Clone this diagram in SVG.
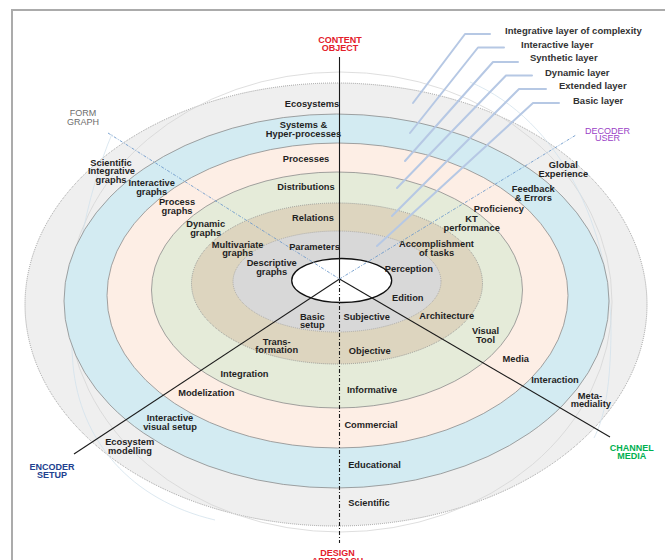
<svg xmlns="http://www.w3.org/2000/svg" width="665" height="560" viewBox="0 0 665 560">
<style>
.t{font-family:"Liberation Sans Narrow","Liberation Sans",Arial,sans-serif;font-weight:bold;font-size:9.3px;fill:#1f1f1f;text-anchor:middle}
.lg{font-family:"Liberation Sans Narrow","Liberation Sans",Arial,sans-serif;font-weight:bold;font-size:9.5px;fill:#333}
.ax{font-family:"Liberation Sans Narrow","Liberation Sans",Arial,sans-serif;font-weight:bold;font-size:9px;text-anchor:middle}
.edge{stroke:#8c8c8c;stroke-width:0.8}
.dot{stroke:#8c8c8c;stroke-width:0.9;stroke-dasharray:0.9 1.1}
.leader{fill:none;stroke:#b6c8e4;stroke-width:2;stroke-linejoin:round;stroke-linecap:round}
.faint{fill:none;stroke:#d6d6d6;stroke-width:0.8}
.axis{stroke:#1a1a1a;stroke-width:1.1;fill:none}
.blued{stroke:#6f9bcc;stroke-width:0.9;stroke-dasharray:3 1.5 1 1.5;fill:none}
</style>
<rect x="0" y="0" width="665" height="560" fill="#fff"/>
<path d="M12 560 V10 H665" fill="none" stroke="#ababab" stroke-width="2"/>

<g id="ring-ecosystems"><ellipse cx="336" cy="304.5" rx="311" ry="221.5" fill="#efefef" class="dot"/></g>
<g id="faint-orbits">
<ellipse cx="340" cy="302" rx="272" ry="230" class="faint"/>
<path class="faint" style="stroke:#d3e2ec" d="M470 82 C560 120 612 230 611 335 C610 395 603 420 594 438"/>
<path class="faint" style="stroke:#d3e2ec" d="M112 134 C88 190 66 290 73 365 C80 440 130 500 215 520"/>
</g>
<g id="ring-systems"><ellipse cx="336.5" cy="301" rx="272.5" ry="187" fill="#d3ebf2" class="edge"/></g>
<g id="ring-processes"><ellipse cx="337.5" cy="295.5" rx="230.5" ry="152.5" fill="#fdeee5" class="edge"/></g>
<g id="ring-distributions"><ellipse cx="337" cy="290" rx="185.5" ry="118" fill="#e5ebd9" class="edge"/></g>
<g id="ring-relations"><ellipse cx="337" cy="283.5" rx="145.5" ry="80.5" fill="#ddd5bf" class="dot"/></g>
<g id="ring-parameters"><ellipse cx="337" cy="281.5" rx="104" ry="50.5" fill="#d8d8d8" class="dot" style="stroke:#a3a3a3"/></g>
<g id="core"><ellipse cx="341.7" cy="280.5" rx="50" ry="22" fill="#fff" stroke="#111" stroke-width="1.3"/></g>

<g id="connectors">
<line class="axis" x1="339.5" y1="57" x2="339.5" y2="279"/>
<line class="axis" x1="339.5" y1="279" x2="339.5" y2="543" stroke-dasharray="4 2 1 2"/>
<line class="axis" x1="339.5" y1="279" x2="74" y2="454"/>
<line class="axis" x1="339.5" y1="279" x2="610" y2="437"/>
<line class="blued" x1="108" y1="133" x2="339.5" y2="279"/>
<line class="blued" x1="339.5" y1="279" x2="576" y2="135"/>
<path class="leader" d="M490 34 L465 34 L413 103"/>
<path class="leader" d="M504 47.5 L478 47.5 L410 133"/>
<path class="leader" d="M518 62 L493 62 L405 161"/>
<path class="leader" d="M532 75.5 L506 75.5 L397 188"/>
<path class="leader" d="M546 89 L519 89 L392 216"/>
<path class="leader" d="M559 103 L533 103 L377 246"/>
</g>

<g id="legend">
<text class="lg" x="505" y="33.5">Integrative layer of complexity</text>
<text class="lg" x="521" y="47.5">Interactive layer</text>
<text class="lg" x="530" y="61">Synthetic layer</text>
<text class="lg" x="545" y="75.5">Dynamic layer</text>
<text class="lg" x="559" y="89">Extended layer</text>
<text class="lg" x="573" y="103.5">Basic layer</text>
</g>

<g id="axis-labels">
<text class="ax" fill="#e3202a" x="340" y="42.5">CONTENT<tspan x="340" dy="8">OBJECT</tspan></text>
<text class="ax" fill="#6d6d6d" style="font-weight:normal" x="83" y="116">FORM<tspan x="83" dy="9">GRAPH</tspan></text>
<text class="ax" fill="#9a3fc6" style="font-weight:normal" x="607.5" y="133.5">DECODER<tspan x="607.5" dy="7.8">USER</tspan></text>
<text class="ax" fill="#21418f" x="52" y="470">ENCODER<tspan x="52" dy="8.4">SETUP</tspan></text>
<text class="ax" fill="#00b050" x="631.7" y="450.5">CHANNEL<tspan x="631.7" dy="8.7">MEDIA</tspan></text>
<text class="ax" fill="#e3202a" x="337.5" y="555.5">DESIGN<tspan x="337.5" dy="8">APPROACH</tspan></text>
</g>

<g id="content-labels">
<text class="t" x="312" y="106.7">Ecosystems</text>
<text class="t" x="303.5" y="128">Systems &amp;<tspan x="303.5" dy="9">Hyper-processes</tspan></text>
<text class="t" x="306" y="162.3">Processes</text>
<text class="t" x="306" y="190">Distributions</text>
<text class="t" x="313" y="221">Relations</text>
<text class="t" x="314.5" y="250">Parameters</text>
</g>

<g id="design-labels">
<text class="t" x="366.7" y="320">Subjective</text>
<text class="t" x="369.7" y="354">Objective</text>
<text class="t" x="372" y="392.6">Informative</text>
<text class="t" x="371" y="428.3">Commercial</text>
<text class="t" x="374.5" y="468">Educational</text>
<text class="t" x="369" y="505.6">Scientific</text>
</g>

<g id="form-labels">
<text class="t" x="111" y="165.8">Scientific<tspan x="111.5" dy="8.5">Integrative</tspan><tspan x="111" dy="8.5">graphs</tspan></text>
<text class="t" x="151.7" y="186.3">Interactive<tspan x="151.7" dy="8.7">graphs</tspan></text>
<text class="t" x="177" y="205.3">Process<tspan x="177" dy="8.7">graphs</tspan></text>
<text class="t" x="205.7" y="227.2">Dynamic<tspan x="205.7" dy="8.8">graphs</tspan></text>
<text class="t" x="237.7" y="247.8">Multivariate<tspan x="237.7" dy="8.5">graphs</tspan></text>
<text class="t" x="271.7" y="266.1">Descriptive<tspan x="271.7" dy="8.6">graphs</tspan></text>
</g>

<g id="decoder-labels">
<text class="t" x="563.3" y="168.3">Global<tspan x="563.3" dy="8.8">Experience</tspan></text>
<text class="t" x="533.3" y="191.8">Feedback<tspan x="533.3" dy="8.8">&amp; Errors</tspan></text>
<text class="t" x="498.8" y="211.5">Proficiency</text>
<text class="t" x="471.5" y="222.3">KT<tspan x="471.7" dy="9">performance</tspan></text>
<text class="t" x="436.5" y="247.3">Accomplishment<tspan x="436.5" dy="8.4">of tasks</tspan></text>
<text class="t" x="408.8" y="272">Perception</text>
<text class="t" x="407.8" y="300.5">Edition</text>
</g>

<g id="channel-labels">
<text class="t" x="446.7" y="319">Architecture</text>
<text class="t" x="485.5" y="334.1">Visual<tspan x="485.5" dy="8.6">Tool</tspan></text>
<text class="t" x="515.8" y="361.5">Media</text>
<text class="t" x="555" y="383.3">Interaction</text>
<text class="t" x="590" y="398.8">Meta-<tspan x="590.8" dy="8.6">mediality</tspan></text>
</g>

<g id="encoder-labels">
<text class="t" x="312.3" y="319.7">Basic<tspan x="312.3" dy="8.3">setup</tspan></text>
<text class="t" x="276.7" y="344.8">Trans-<tspan x="276.7" dy="8.6">formation</tspan></text>
<text class="t" x="244.5" y="377.3">Integration</text>
<text class="t" x="206.3" y="396">Modelization</text>
<text class="t" x="170" y="421.4">Interactive<tspan x="170" dy="8.6">visual setup</tspan></text>
<text class="t" x="129.7" y="444.8">Ecosystem<tspan x="130" dy="8.7">modelling</tspan></text>
</g>
</svg>
